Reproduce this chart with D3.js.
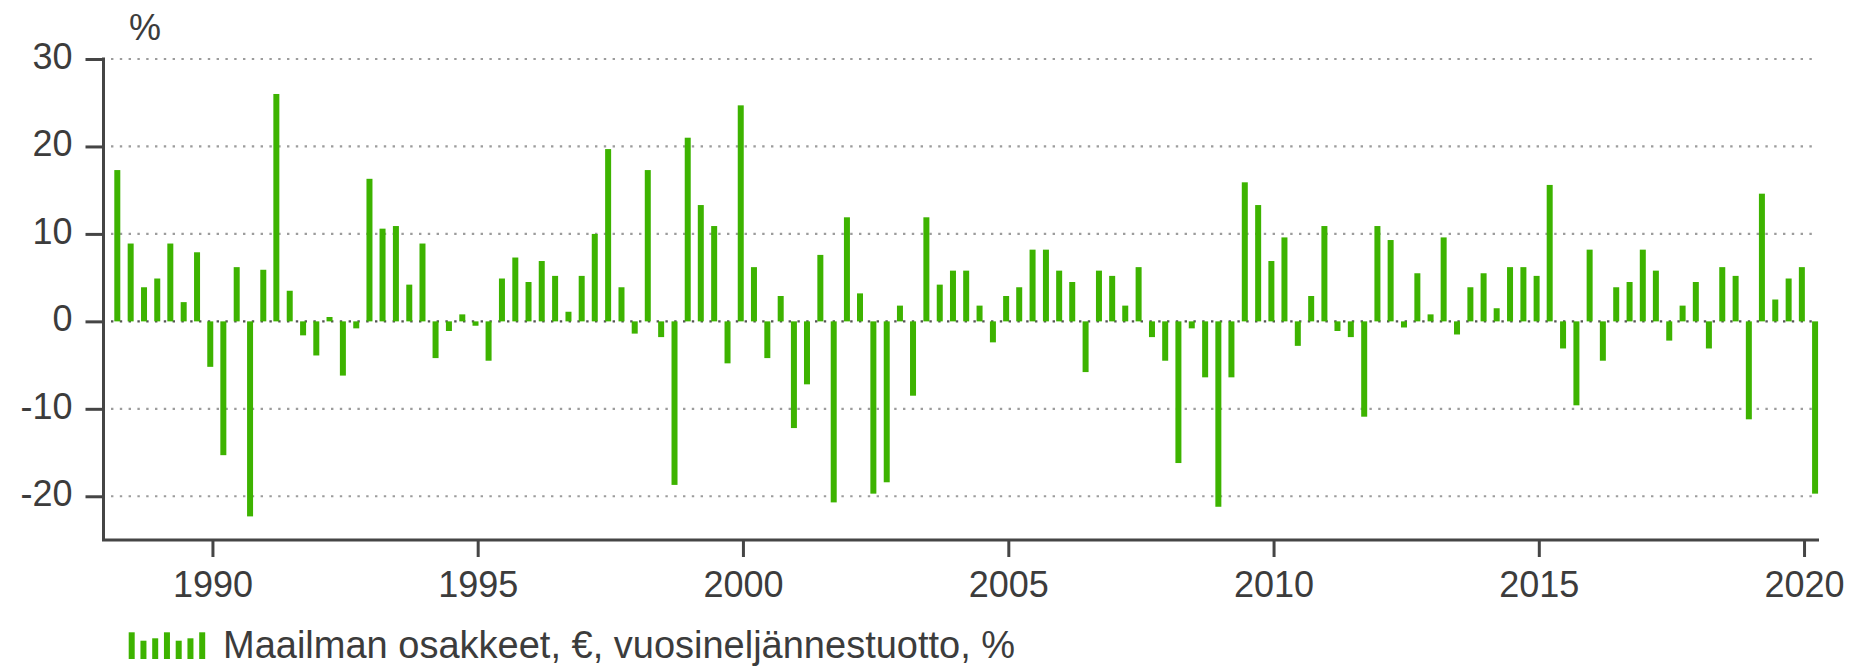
<!DOCTYPE html>
<html>
<head>
<meta charset="utf-8">
<script src="https://cdn.jsdelivr.net/npm/d3@7"></script>
<style>
  html, body { margin: 0; padding: 0; background: #fff; }
  svg { display: block; font-family: "Liberation Sans", Arial, Helvetica, sans-serif; }
</style>
</head>
<body>
<svg id="chart" width="1857" height="670"></svg>
<script>
// ---- data ----
const startYear = 1988;      // first quarter: 1988 Q1
const startQuarter = 1;
const values = [
  17.3, 8.9, 3.9, 4.9, 8.9, 2.2, 7.9, -5.2,
  -15.3, 6.2, -22.3, 5.9, 26.0, 3.5, -1.6, -3.9,
  0.5, -6.2, -0.8, 16.3, 10.6, 10.9, 4.2, 8.9,
  -4.2, -1.1, 0.8, -0.5, -4.5, 4.9, 7.3, 4.5,
  6.9, 5.2, 1.1, 5.2, 10.0, 19.7, 3.9, -1.4,
  17.3, -1.8, -18.7, 21.0, 13.3, 10.9, -4.8, 24.7,
  6.2, -4.2, 2.9, -12.2, -7.2, 7.6, -20.7, 11.9,
  3.2, -19.7, -18.4, 1.8, -8.5, 11.9, 4.2, 5.8,
  5.8, 1.8, -2.4, 2.9, 3.9, 8.2, 8.2, 5.8,
  4.5, -5.8, 5.8, 5.2, 1.8, 6.2, -1.8, -4.5,
  -16.2, -0.8, -6.4, -21.2, -6.4, 15.9, 13.3, 6.9,
  9.6, -2.8, 2.9, 10.9, -1.1, -1.8, -10.9, 10.9,
  9.3, -0.7, 5.5, 0.8, 9.6, -1.5, 3.9, 5.5,
  1.5, 6.2, 6.2, 5.2, 15.6, -3.1, -9.6, 8.2,
  -4.5, 3.9, 4.5, 8.2, 5.8, -2.2, 1.8, 4.5,
  -3.1, 6.2, 5.2, -11.2, 14.6, 2.5, 4.9, 6.2,
  -19.7
];
const yTicks = [-20, -10, 0, 10, 20, 30];
const xTickYears = [1990, 1995, 2000, 2005, 2010, 2015, 2020];
const yUnit = "%";
const legendLabel = "Maailman osakkeet, €, vuosineljännestuotto, %";
const legendIcon = [26.7, 18.3, 20.7, 26.7, 18.3, 20.7, 26.7];

// ---- build dated series (bar placed in the last month of each quarter) ----
const series = values.map((v, i) => {
  const q = startQuarter - 1 + i;
  const y = startYear + Math.floor(q / 4);
  const m = (q % 4) * 3 + 2;
  return { date: new Date(y, m, 17), value: v };
});

// ---- styles ----
const green = "#3db300";
const axisColor = "#454545";
const textColor = "#3c3c3c";

const svg = d3.select("#chart");

const x = d3.scaleTime()
  .domain([new Date(1987, 11, 13), new Date(2020, 3, 13)])
  .range([103.5, 1819]);
const y = d3.scaleLinear().domain([-25, 30]).range([540, 59]);

// gridlines
svg.append("g").selectAll("line").data(yTicks).join("line")
  .attr("x1", 111).attr("x2", 1812)
  .attr("y1", d => y(d)).attr("y2", d => y(d))
  .attr("stroke", d => d === 0 ? "#555" : "#9c9c9c")
  .attr("stroke-width", 2.2)
  .attr("stroke-dasharray", "2.4,6.4");

// bars
const barW = 6;
svg.append("g").selectAll("rect").data(series).join("rect")
  .attr("x", d => x(d.date) - barW / 2)
  .attr("width", barW)
  .attr("y", d => y(Math.max(0, d.value)))
  .attr("height", d => Math.abs(y(d.value) - y(0)))
  .attr("fill", green);

// y axis
const yAxis = d3.axisLeft(y).tickValues(yTicks).tickSize(18).tickPadding(13).tickFormat(d => String(d));
const gy = svg.append("g").attr("transform", "translate(103.5,0)").call(yAxis);
gy.select(".domain").remove();
gy.append("line").attr("x1", 0).attr("x2", 0).attr("y1", y(30) - 1.5).attr("y2", y(-25))
  .attr("stroke", axisColor).attr("stroke-width", 3);
gy.selectAll(".tick line").attr("stroke", axisColor).attr("stroke-width", 3);
gy.selectAll(".tick text")
  .attr("fill", textColor).attr("font-size", 36)
  .attr("font-family", "Liberation Sans, Arial, sans-serif")
  .attr("dy", "0.26em");

// x axis
const xAxis = d3.axisBottom(x)
  .tickValues(xTickYears.map(yr => new Date(yr, 0, 1)))
  .tickSize(17).tickPadding(14)
  .tickFormat(d3.timeFormat("%Y"));
const gx = svg.append("g").attr("transform", "translate(0,540)").call(xAxis);
gx.select(".domain").remove();
gx.append("line").attr("x1", 102).attr("x2", 1819).attr("y1", 0).attr("y2", 0)
  .attr("stroke", axisColor).attr("stroke-width", 3);
gx.selectAll(".tick line").attr("stroke", axisColor).attr("stroke-width", 3);
gx.selectAll(".tick text")
  .attr("fill", textColor).attr("font-size", 36)
  .attr("font-family", "Liberation Sans, Arial, sans-serif")
  .attr("dy", "0.71em");

// unit label
svg.append("text").attr("x", 129).attr("y", 40)
  .attr("fill", textColor).attr("font-size", 36).text(yUnit);

// legend
const lg = svg.append("g");
lg.selectAll("rect").data(legendIcon).join("rect")
  .attr("x", (d, i) => 128.7 + i * 11.75)
  .attr("width", 6)
  .attr("y", d => 659 - d)
  .attr("height", d => d)
  .attr("fill", green);
lg.append("text").attr("x", 223).attr("y", 658)
  .attr("fill", textColor).attr("font-size", 38).text(legendLabel);
</script>
</body>
</html>
